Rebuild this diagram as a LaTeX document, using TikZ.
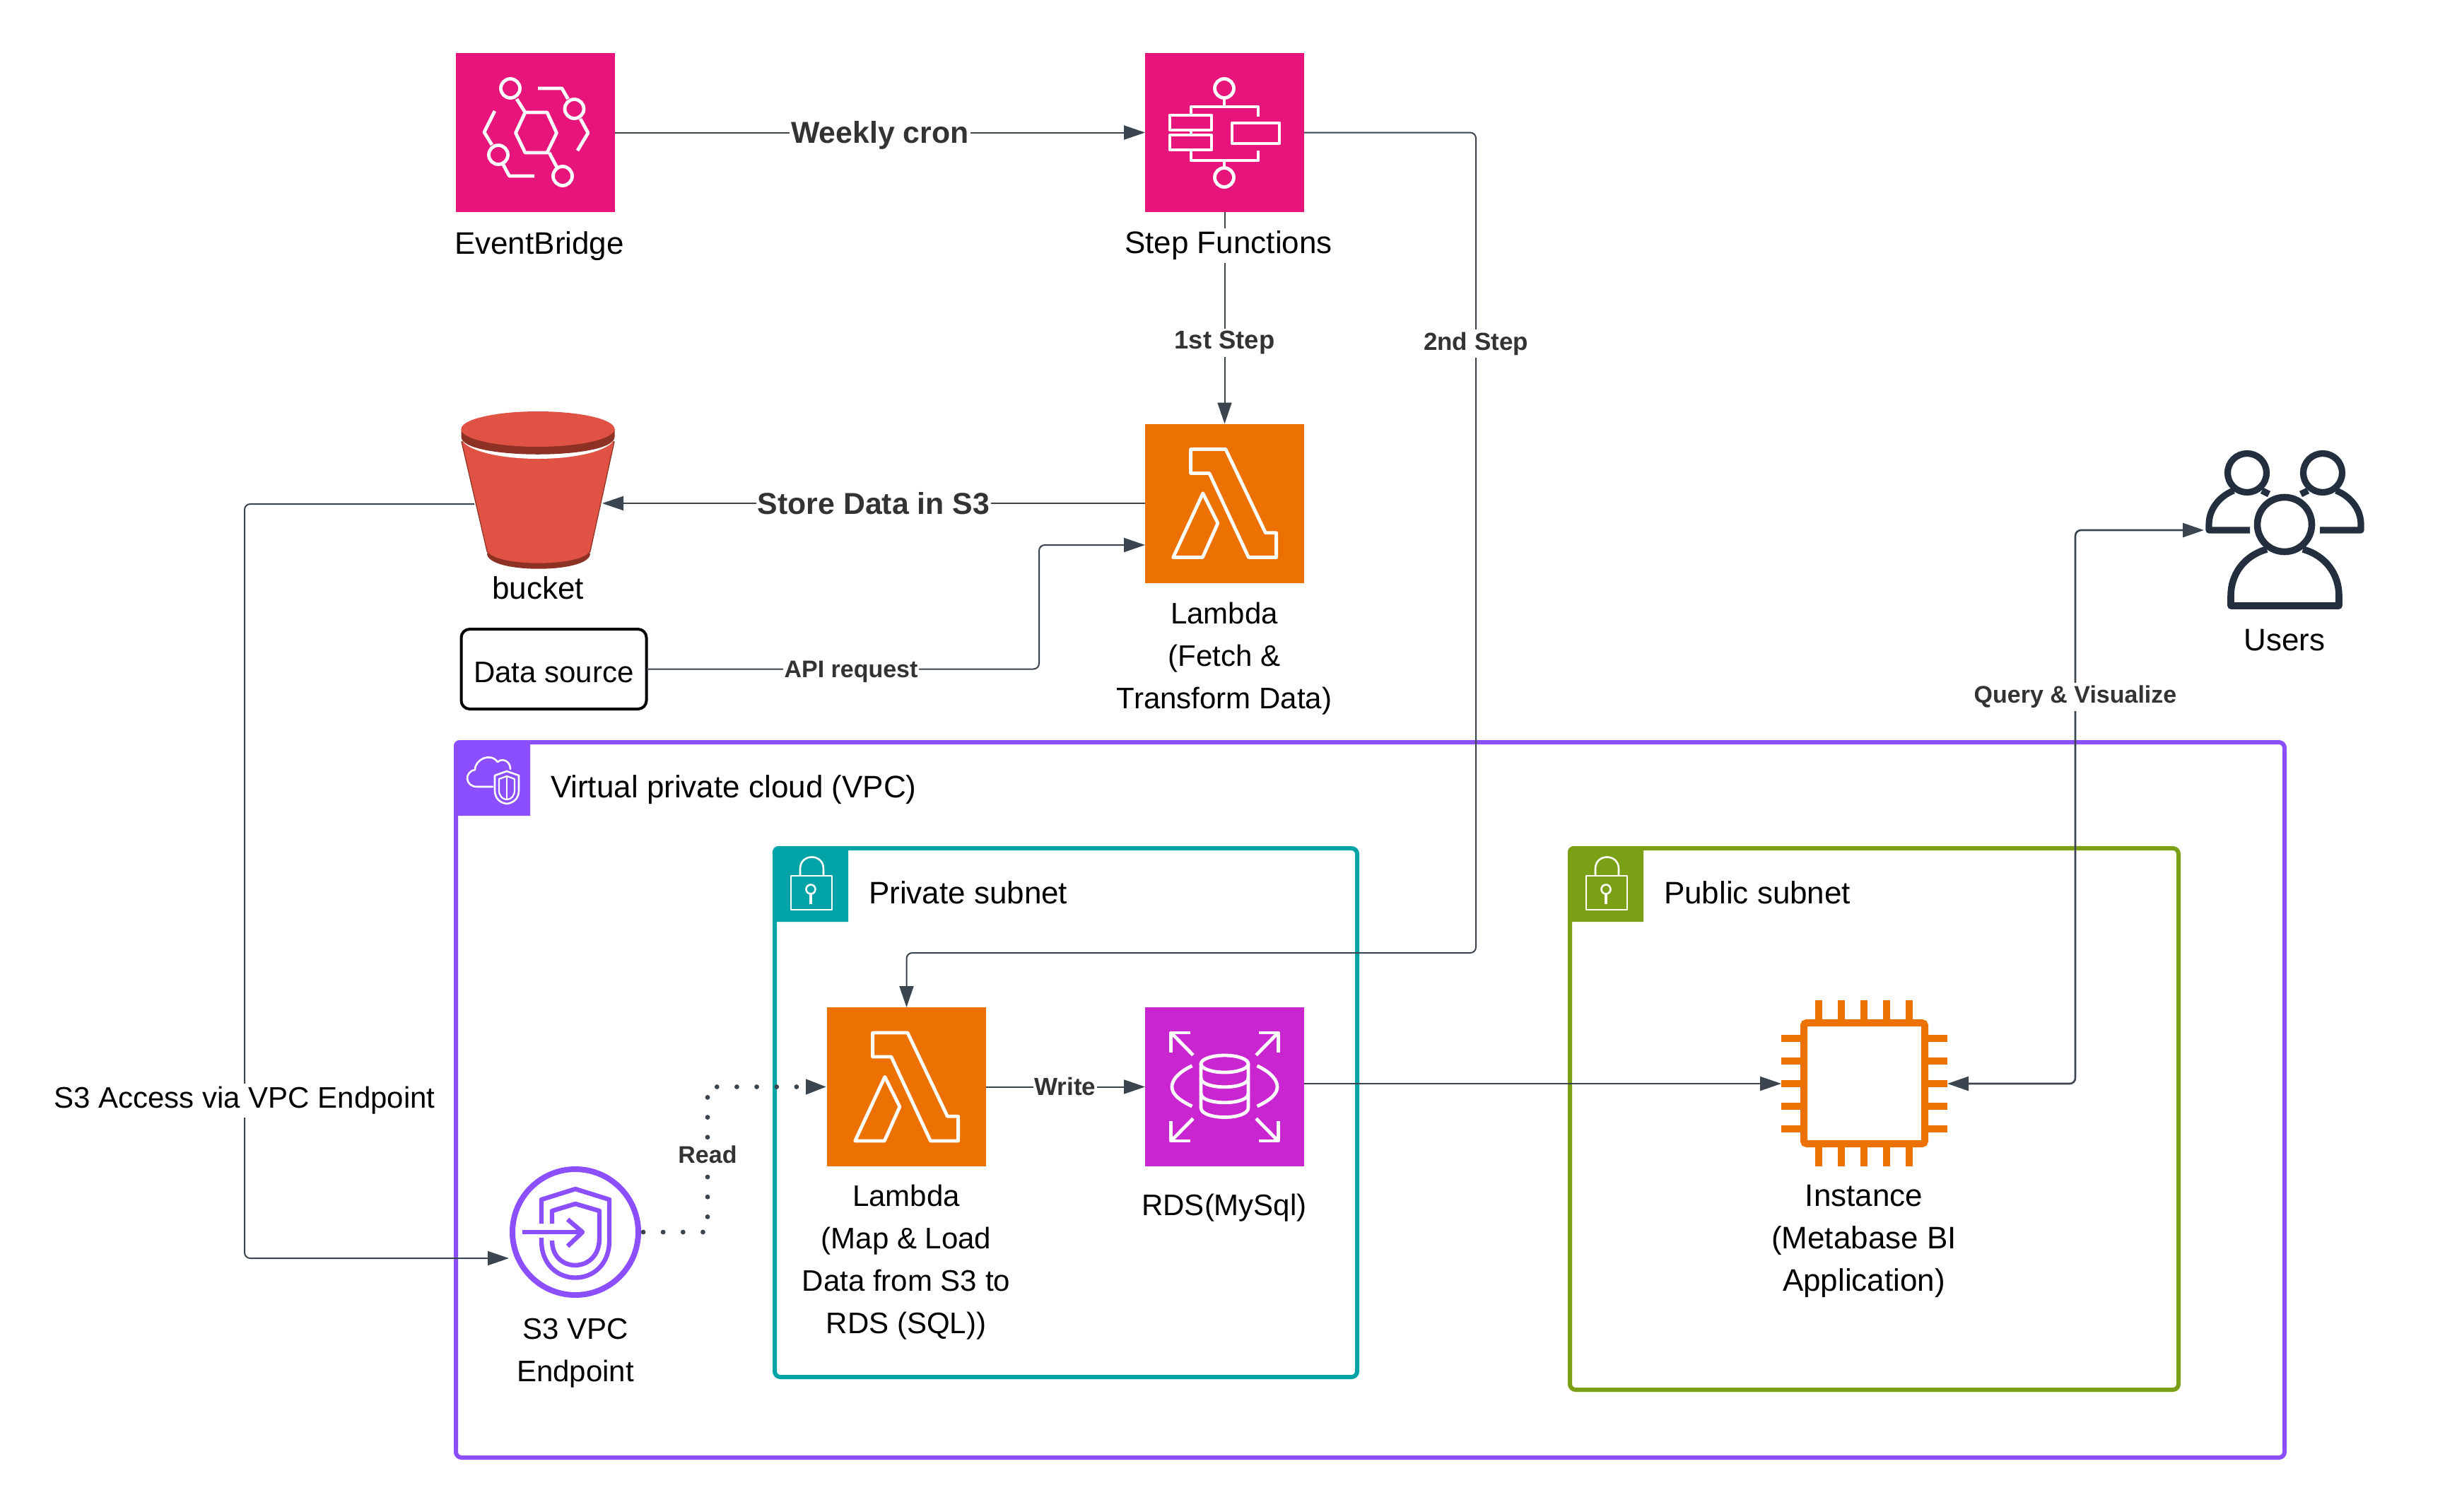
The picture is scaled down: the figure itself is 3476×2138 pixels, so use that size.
\documentclass[tikz,border=0pt]{standalone}
\usepackage{fontspec}
\setmainfont{Liberation Sans}
\usetikzlibrary{arrows.meta,calc}
\definecolor{pinkaws}{HTML}{E7157B}
\definecolor{orangeaws}{HTML}{ED7100}
\definecolor{magentaaws}{HTML}{C925D1}
\definecolor{vpcpurple}{HTML}{8C4FFF}
\definecolor{privteal}{HTML}{01A4A6}
\definecolor{pubgreen}{HTML}{7AA116}
\definecolor{connc}{HTML}{3B4550}
\definecolor{usersc}{HTML}{232F3E}
\definecolor{s3red}{HTML}{E05243}
\definecolor{s3dark}{HTML}{8C3123}
\definecolor{elabc}{HTML}{333333}
\tikzset{
  >={Triangle[length=15pt,width=10pt]},
  every node/.style={inner sep=0pt,outer sep=0pt},
  awsbox/.style={rectangle,minimum width=112.5pt,minimum height=112.5pt},
  conn/.style={draw=connc,line width=1pt,rounded corners=4pt,->},
  glyph/.style={draw=white,line width=2.4pt,line join=round,fill=none},
  groupbox/.style={rectangle,draw,line width=3pt,rounded corners=4pt,fill=none},
  txt/.style={font=\fontsize{22}{30}\selectfont,align=center,text=black},
  txtn/.style={font=\fontsize{21}{30}\selectfont,align=center,text=black},
  boxlabel/.style={fill=white,font=\fontsize{22}{30}\selectfont,align=center,text=black,inner xsep=0pt,inner ysep=2pt},
  boxlabeln/.style={fill=white,font=\fontsize{21}{30}\selectfont,align=center,text=black,inner xsep=1pt,inner ysep=2pt},
  elabbig/.style={fill=white,font=\bfseries\fontsize{21.4}{24}\selectfont,text=elabc,inner xsep=1pt,inner ysep=2pt},
  elabmid/.style={fill=white,font=\bfseries\fontsize{17.5}{20}\selectfont,text=elabc,inner xsep=1pt,inner ysep=2pt},
  elabfirst/.style={fill=white,font=\bfseries\fontsize{18.2}{20}\selectfont,text=elabc,inner xsep=1pt,inner ysep=2pt},
  elabsmall/.style={fill=white,font=\bfseries\fontsize{17}{20}\selectfont,text=elabc,inner xsep=1pt,inner ysep=2pt},
  lambdaglyph/.pic={
    \draw[glyph] (64.6,36) -- (114,36) -- (170.4,154.3) -- (185.6,154.3) -- (185.6,189) -- (146.4,189) -- (90.9,70) -- (64.6,70) -- cycle;
    \draw[glyph] (81.8,98.3) -- (102.9,140.7) -- (81.3,189) -- (39.7,189) -- cycle;
  },
  lockglyph/.pic={
    \draw[draw=white,line width=1.3pt,line join=round] (26,42) rectangle (84,90);
    \draw[draw=white,line width=1.3pt] (39,42) -- (39,32) .. controls (39,10) and (72,10) .. (72,32) -- (72,42);
    \draw[draw=white,line width=1.3pt] (54,61) circle[radius=6.5];
    \draw[draw=white,line width=1.6pt] (54,67.5) -- (54,82);
  },
}
\begin{document}
\begin{tikzpicture}[x=0.5pt,y=-0.5pt]
\path[use as bounding box,fill=white] (0,0) rectangle (3476,2138);

% group boxes
\node[groupbox,draw=vpcpurple,minimum width=1293.5pt,minimum height=506pt] (vpc) at (1938.5,1556) {};
\node[groupbox,draw=privteal,minimum width=412pt,minimum height=374pt] (priv) at (1508,1574) {};
\node[groupbox,draw=pubgreen,minimum width=430.5pt,minimum height=383pt] (pub) at (2651.5,1583) {};

% group headers
\fill[vpcpurple] (642,1154) [rounded corners=4pt] -- (642,1047) [sharp corners] -- (750,1047) -- (750,1154) -- cycle;
\fill[privteal] (1093,1304) [rounded corners=4pt] -- (1093,1197) [sharp corners] -- (1200,1197) -- (1200,1304) -- cycle;
\fill[pubgreen] (2218,1304) [rounded corners=4pt] -- (2218,1197) [sharp corners] -- (2325,1197) -- (2325,1304) -- cycle;

% VPC glyph: cloud and shield
\draw[draw=white,line width=1.3pt,line join=round,line cap=round]
  (697,1113) -- (675,1113) .. controls (658,1113) and (656,1092) .. (672,1089)
  .. controls (672,1074) and (694,1064) .. (704,1078)
  .. controls (710,1072) and (722,1076) .. (722,1088);
\draw[draw=white,line width=1.3pt,line join=round]
  (717,1091) -- (700,1097) -- (700,1118) .. controls (700,1130) and (708,1136) .. (717,1137)
  .. controls (726,1136) and (734,1130) .. (734,1118) -- (734,1097) -- cycle;
\draw[draw=white,line width=1.1pt,line join=round]
  (717,1098) -- (706,1102) -- (706,1118) .. controls (706,1126) and (711,1131) .. (717,1131)
  .. controls (723,1131) and (728,1126) .. (728,1118) -- (728,1102) -- cycle;
\draw[draw=white,line width=1.1pt] (717,1098) -- (717,1131);

% lock glyphs
\pic at (1093,1197) {lockglyph};
\pic at (2218,1197) {lockglyph};

% service squares
\node[awsbox,fill=pinkaws] (eb) at (757.5,187.5) {};
\node[awsbox,fill=pinkaws] (sf) at (1732.5,187.5) {};
\node[awsbox,fill=orangeaws] (lamtop) at (1732.5,712) {};
\node[awsbox,fill=orangeaws] (lambot) at (1282.5,1537.5) {};
\node[awsbox,fill=magentaaws] (rds) at (1732.5,1537.5) {};

% EventBridge glyph
\draw[glyph] (743,159) -- (774,159) -- (787.5,188) -- (774,216) -- (743,216) -- (729.5,188) -- cycle;
\draw[glyph] (722,125) circle[radius=13.5];
\draw[glyph] (731,140) -- (743,159);
\draw[glyph] (812.5,154) circle[radius=13.5];
\draw[glyph] (761,125) -- (795,125) -- (803.5,140);
\draw[glyph] (821,168) -- (832,188) -- (817,213);
\draw[glyph] (705,219) circle[radius=13.5];
\draw[glyph] (700,157) -- (685,187) -- (696,205);
\draw[glyph] (712,233) -- (720.5,249) -- (756,249);
\draw[glyph] (796,249) circle[radius=13.5];
\draw[glyph] (777,216) -- (787.5,236);

% Step Functions glyph
\draw[glyph] (1732,125) circle[radius=13.5];
\draw[glyph] (1732,139) -- (1732,151);
\draw[glyph] (1685,163) -- (1685,151) -- (1780,151) -- (1780,165);
\draw[glyph] (1655,163) rectangle (1714,184);
\draw[glyph] (1655,191) rectangle (1714,212);
\draw[glyph] (1685,184) -- (1685,191);
\draw[glyph] (1743,174) rectangle (1810,203);
\draw[glyph] (1685,212) -- (1685,227) -- (1780,227) -- (1780,213);
\draw[glyph] (1732,227) -- (1732,237);
\draw[glyph] (1732,251) circle[radius=13.5];

% Lambda glyphs
\pic at (1620,599.5) {lambdaglyph};
\pic at (1170,1425) {lambdaglyph};

% RDS glyph
\begin{scope}[shift={(1620,1425)}]
  \draw[glyph] (64,36) -- (36.8,36) -- (36.8,64); \draw[glyph] (36.8,36) -- (68,67.7);
  \draw[glyph] (161,36) -- (188.2,36) -- (188.2,64); \draw[glyph] (188.2,36) -- (157,67.7);
  \draw[glyph] (64,189) -- (36.8,189) -- (36.8,161); \draw[glyph] (36.8,189) -- (68,157.3);
  \draw[glyph] (161,189) -- (188.2,189) -- (188.2,161); \draw[glyph] (188.2,189) -- (157,157.3);
  \draw[glyph] (112.5,80) ellipse[x radius=33.5,y radius=12];
  \draw[glyph] (79,80) -- (79,142) .. controls (79,160) and (146,160) .. (146,142) -- (146,80);
  \draw[glyph] (79,100) .. controls (79,117) and (146,117) .. (146,100);
  \draw[glyph] (79,122) .. controls (79,139) and (146,139) .. (146,122);
  \draw[glyph] (66.5,82.7) .. controls (45,93) and (38,104) .. (38,112.5) .. controls (38,121) and (45,130) .. (66.5,140);
  \draw[glyph] (158.5,82.7) .. controls (180,93) and (187,104) .. (187,112.5) .. controls (187,121) and (180,130) .. (158.5,140);
\end{scope}

% bucket
\node[rectangle,minimum width=108.5pt,minimum height=112pt] (bucket) at (761,694) {};
\fill[s3dark] (689,783) .. controls (689,812) and (835,812) .. (835,783) -- cycle;
\fill[s3red,draw=s3dark,line width=0.6pt] (653,625) -- (689,780) .. controls (700,803) and (824,803) .. (835,780) -- (869,625) -- cycle;
\fill[white] (761,618) ellipse[x radius=108.5,y radius=31];
\fill[s3dark] (652.5,607) -- (652.5,618) .. controls (652.5,651) and (869.5,651) .. (869.5,618) -- (869.5,607) -- cycle;
\fill[s3red] (761,607) ellipse[x radius=108.5,y radius=25];

% data source
\node[rectangle,draw=black,line width=2pt,rounded corners=6pt,minimum width=131pt,minimum height=56.5pt,font=\fontsize{21}{24}\selectfont,text height=19pt] (ds) at (783.5,946.5) {Data source};

% endpoint
\node[circle,draw=vpcpurple,line width=4pt,minimum size=89pt] (ep) at (814,1743) {};
\begin{scope}[draw=vpcpurple,line width=3.2pt,line join=round]
  \draw (766,1731) -- (766,1697) -- (814,1682) -- (862,1697) -- (862,1755) .. controls (862,1825) and (766,1825) .. (766,1755) -- (766,1751);
  \draw (781,1731) -- (781,1713) -- (814,1703) -- (848,1713) -- (848,1752) .. controls (848,1802) and (781,1802) .. (781,1755);
  \draw (739,1743) -- (822,1743);
  \draw (803,1725) -- (824,1743) -- (803,1763);
\end{scope}

% instance
\node[rectangle,draw=orangeaws,line width=5pt,rounded corners=2pt,minimum size=85.5pt] (inst) at (2637.5,1532.5) {};
\begin{scope}[draw=orangeaws,line width=5.25pt]
  \foreach \px in {2573,2605,2637,2669,2701} {
    \draw (\px,1415) -- (\px,1442);
    \draw (\px,1623) -- (\px,1650);
  }
  \foreach \py in {1469,1501,1533,1565,1597} {
    \draw (2520,\py) -- (2547,\py);
    \draw (2728,\py) -- (2755,\py);
  }
\end{scope}

% users
\node[rectangle,minimum size=114pt] (users) at (3232,750) {};
\begin{scope}[draw=usersc,line join=round,line cap=round]
  \draw[line width=4.6pt] (3179,669) circle[radius=27.5];
  \draw[line width=4.6pt] (3286,669) circle[radius=27.5];
  \draw[line width=4.6pt,line cap=butt] (3183,750) -- (3125,750) -- (3125,742) .. controls (3125,720) and (3140,702) .. (3160,694);
  \draw[line width=4.6pt,line cap=butt] (3200,694) -- (3210,699);
  \draw[line width=4.6pt,line cap=butt] (3282,750) -- (3340,750) -- (3340,742) .. controls (3340,720) and (3325,702) .. (3305,694);
  \draw[line width=4.6pt,line cap=butt] (3265,694) -- (3255,699);
  \fill[white] (3232,742) circle[radius=43];
  \draw[line width=4.8pt] (3232,742) circle[radius=38.5];
  \draw[line width=4.8pt,line cap=butt] (3207,777) .. controls (3175,786) and (3156,812) .. (3156,843) -- (3156,857) -- (3309,857) -- (3309,843) .. controls (3309,812) and (3290,786) .. (3258,777);
\end{scope}

% connector waypoints
\coordinate (sfr) at (2088,187.5);
\coordinate (sfd) at (2088,1348);
\coordinate (lamx) at (1282.5,1348);
\coordinate (bl) at (671,713);
\coordinate (br) at (852,712);
\coordinate (bx) at (346,713);
\coordinate (bz) at (346,1780);
\coordinate (epin) at (720,1780);
\coordinate (apix) at (1470,946.5);
\coordinate (apiy) at (1470,771);
\coordinate (lamin) at (1620,771);
\coordinate (instl) at (2520,1533);
\coordinate (instr) at (2755,1533);
\coordinate (rdsout) at (1845,1533);
\coordinate (qx) at (2936,1533);
\coordinate (qy) at (2936,750);
\coordinate (dotA) at (1001,1743);
\coordinate (dotB) at (1001,1537.5);

% connectors
\draw[conn] (eb) -- (sf);
\draw[conn] (sf) -- (lamtop);
\draw[conn] (sf) -- (sfr) -- (sfd) -- (lamx) -- (lambot);
\draw[conn] (lamtop) -- (br);
\draw[conn] (bl) -- (bx) -- (bz) -- (epin);
\draw[conn] (ds) -- (apix) -- (apiy) -- (lamin);
\draw[conn] (lambot) -- (rds);
\draw[conn] (rdsout) -- (instl);
\draw[conn,<->,line width=1.3pt] (instr) -- (qx) -- (qy) -- (users);
\draw[draw=connc,line width=3.4pt,line cap=round,dash pattern=on 0pt off 14.08pt,dash phase=10.58pt,->] (ep.east) -- (dotA) -- (dotB) -- (lambot);

% edge labels
\node[elabbig] (lwc) at (1245,191) {Weekly cron};
\node[elabfirst] (l1s) at (1732.5,485) {1st Step};
\node[elabmid] (l2s) at (2088,486) {2nd Step};
\node[elabbig] (lst) at (1236,712) {Store Data in S3};
\node[elabsmall] (lapi) at (1204,950) {API request};
\node[elabsmall] (lqv) at (2936,986) {Query \& Visualize};
\node[elabsmall] (lrd) at (1001,1633) {Read};
\node[elabmid] (lwr) at (1507,1537) {Write};
\node[boxlabeln] (ls3) at (346,1557) {S3 Access via VPC Endpoint};

% node labels
\node[txt] (tebr) at (763,348) {EventBridge};
\node[boxlabel] (tsf) at (1738,347) {Step Functions};
\node[txt] (tbk) at (761,832) {bucket};
\node[txtn] (tlt) at (1732,932) {Lambda\\(Fetch \&\\Transform Data)};
\node[txt] (tus) at (3232,906) {Users};
\node[txt,anchor=west] (tvpc) at (779,1117) {Virtual private cloud (VPC)};
\node[txt,anchor=west] (tpriv) at (1229,1263) {Private subnet};
\node[txt,anchor=west] (tpub) at (2354,1263) {Public subnet};
\node[txtn] (tlb) at (1282,1785.5) {Lambda\\(Map \& Load\\Data from S3 to\\RDS (SQL))};
\node[txtn] (trds) at (1732,1709) {RDS(MySql)};
\node[txt] (tin) at (2637,1755.5) {Instance\\(Metabase BI\\Application)};
\node[txtn] (tep) at (814,1914) {S3 VPC\\Endpoint};
\end{tikzpicture}
\end{document}
